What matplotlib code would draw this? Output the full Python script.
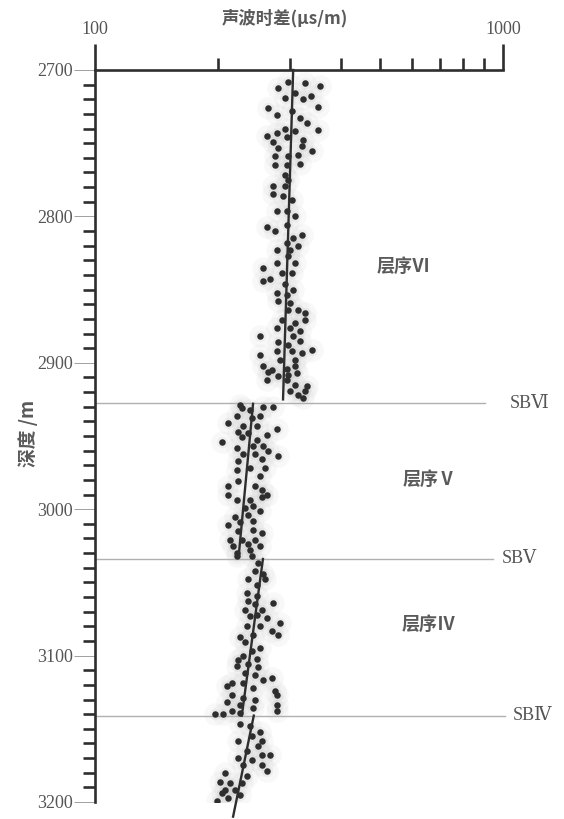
import matplotlib
matplotlib.use('Agg')
import matplotlib.pyplot as plt
from matplotlib.ticker import FixedLocator, NullFormatter, FixedFormatter, MultipleLocator

# ---------------- data ----------------
seq6_depth = [2712, 2708, 2716, 2709, 2711, 2719, 2720, 2718, 2726, 2731,
              2728, 2733, 2725, 2736, 2740, 2742, 2741, 2745, 2743, 2749,
              2746, 2748, 2753, 2752, 2755, 2759, 2759, 2758, 2765, 2765,
              2764, 2772, 2775, 2779, 2779, 2785, 2786, 2789, 2796, 2796,
              2800, 2807, 2810, 2806, 2815, 2813, 2818, 2823, 2823, 2820,
              2827, 2832, 2832, 2835, 2839, 2839, 2844, 2843, 2846, 2850,
              2852, 2854, 2858, 2859, 2864, 2864, 2866, 2871, 2873, 2871,
              2876, 2876, 2878, 2882, 2882, 2886, 2888, 2885, 2891, 2892,
              2892, 2893, 2895, 2898, 2898, 2902, 2905, 2904, 2902, 2906,
              2909, 2908, 2907, 2912, 2912, 2915, 2916, 2919, 2919, 2922, 2924]
seq6_dt = [281, 297, 309, 327, 356, 292, 324, 339, 265, 279,
           304, 318, 352, 331, 292, 309, 352, 264, 279, 273,
           296, 324, 281, 322, 341, 276, 297, 315, 276, 296,
           318, 292, 297, 273, 292, 273, 289, 304, 279, 296,
           309, 264, 276, 296, 306, 322, 296, 279, 301, 315,
           297, 309, 279, 258, 287, 304, 258, 269, 292, 306,
           279, 296, 281, 301, 297, 315, 327, 287, 309, 327,
           279, 301, 318, 254, 306, 281, 297, 318, 341, 279,
           304, 322, 254, 284, 309, 258, 272, 296, 309, 266,
           281, 297, 313, 264, 296, 309, 331, 301, 327, 315, 324]

seq5_depth = [2929, 2930, 2930, 2932, 2931, 2936, 2938, 2936, 2941, 2943,
              2943, 2945, 2947, 2948, 2949, 2951, 2953, 2954, 2958, 2957,
              2957, 2960, 2962, 2962, 2964, 2967, 2966, 2973, 2972, 2972,
              2977, 2981, 2984, 2984, 2987, 2990, 2990, 2994, 2994, 2992,
              2999, 2998, 3001, 3005, 3004, 3011, 3009, 3008, 3015, 3014,
              3016, 3021, 3021, 3021, 3025, 3024, 3025, 3030, 3028, 3032, 3032]
seq5_dt = [227, 258, 273, 240, 229, 223, 243, 254, 212, 231,
           250, 279, 224, 237, 264, 229, 250, 205, 223, 244,
           258, 266, 231, 247, 281, 224, 257, 223, 240, 261,
           254, 224, 212, 247, 257, 212, 264, 223, 240, 257,
           233, 244, 254, 220, 237, 212, 227, 244, 224, 244,
           257, 214, 229, 247, 218, 237, 254, 223, 240, 223, 243]

seq4_depth = [3037, 3042, 3044, 3048, 3048, 3052, 3057, 3059, 3064, 3063,
              3065, 3069, 3069, 3074, 3073, 3072, 3080, 3080, 3078, 3083,
              3086, 3087, 3086, 3091, 3095, 3097, 3100, 3102, 3103, 3106,
              3107, 3108, 3112, 3113, 3115, 3119, 3119, 3117, 3121, 3122,
              3124, 3127, 3129, 3130, 3127, 3132, 3134, 3136, 3134, 3138,
              3140, 3140, 3138, 3139]
seq4_dt = [251, 247, 258, 237, 261, 250, 236, 250, 273, 237,
           247, 233, 257, 264, 240, 250, 236, 254, 284, 272,
           281, 227, 244, 233, 254, 243, 231, 250, 224, 237,
           223, 251, 233, 247, 272, 217, 231, 258, 211, 244,
           276, 217, 231, 247, 279, 211, 227, 244, 279, 279,
           197, 206, 217, 227]

seq3_depth = [3147, 3148, 3152, 3155, 3158, 3158, 3162, 3165, 3168, 3168,
              3170, 3171, 3175, 3175, 3180, 3179, 3182, 3186, 3187, 3187,
              3192, 3192, 3194, 3199, 3197, 3195]
seq3_dt = [227, 240, 254, 243, 257, 224, 251, 236, 257, 268,
           224, 243, 257, 231, 208, 264, 236, 202, 214, 229,
           208, 220, 205, 199, 212, 227]

trend6_depth = [2700, 2925]
trend6_dt = [306, 289]
trend5_depth = [2928, 3032]
trend5_dt = [244, 225]
trend4_depth = [3034, 3141]
trend4_dt = [258, 229]
trend3_depth = [3141, 3210]
trend3_dt = [245, 218]

sb_depths = [2927.5, 3034, 3141]
sb_labels = ['SBⅥ', 'SBⅤ', 'SBⅣ']
seq_labels = ['层序Ⅵ', '层序Ⅴ', '层序Ⅳ']

x_major = [100, 1000]
x_major_labels = ['100', '1000']
x_minor = [200, 300, 400, 500, 600, 700, 800, 900]
y_major = [2700, 2800, 2900, 3000, 3100, 3200]

# ---------------- figure ----------------
fig = plt.figure(figsize=(5.64, 8.19), dpi=100)
ax = fig.add_axes([95 / 564, 1 - 802 / 819, 408 / 564, 732 / 819])
ax.set_xscale('log')
ax.set_xlim(100, 1000)
ax.set_ylim(3200, 2700)

dark = '#2e2e2e'
txt = '#555555'
cjk = ['Noto Sans CJK SC', 'DejaVu Sans']
serif = ['Liberation Serif', 'DejaVu Serif', 'Noto Sans CJK SC']

for s in ['right', 'bottom']:
    ax.spines[s].set_visible(False)
for s in ['top', 'left']:
    ax.spines[s].set_linewidth(1.9)
    ax.spines[s].set_color(dark)

ax.xaxis.set_ticks_position('top')
ax.xaxis.set_major_locator(FixedLocator(x_major))
ax.xaxis.set_major_formatter(FixedFormatter(x_major_labels))
ax.xaxis.set_minor_locator(FixedLocator(x_minor))
ax.xaxis.set_minor_formatter(NullFormatter())
ax.tick_params(axis='x', which='major', direction='out', length=19, width=1.9,
               color=dark, pad=4, labelsize=13, labelcolor=txt,
               top=True, bottom=False, labeltop=True, labelbottom=False)
ax.tick_params(axis='x', which='minor', direction='out', length=8.6, width=1.9,
               color=dark, top=True, bottom=False)

ax.yaxis.set_major_locator(FixedLocator(y_major))
ax.yaxis.set_minor_locator(MultipleLocator(10))
ax.tick_params(axis='y', which='major', direction='out', length=15, width=0.7,
               color='#a0a0a0', pad=1, labelsize=13, labelcolor=txt)
ax.tick_params(axis='y', which='minor', direction='out', length=8.6, width=1.9,
               color=dark)
for lab in ax.get_xticklabels() + ax.get_yticklabels():
    lab.set_fontfamily(serif)

all_depth = seq6_depth + seq5_depth + seq4_depth + seq3_depth
all_dt = seq6_dt + seq5_dt + seq4_dt + seq3_dt

# soft grey halo (scan shadow)
ax.scatter(all_dt, all_depth, s=260, c='#c0c0c0', alpha=0.10, linewidths=0, zorder=1)
ax.scatter(all_dt, all_depth, s=70, c='#b0b0b0', alpha=0.12, linewidths=0, zorder=1)
for d, v in [(seq6_depth, seq6_dt), (seq5_depth, seq5_dt),
             (seq4_depth, seq4_dt), (seq3_depth, seq3_dt)]:
    ax.scatter(v, d, s=22, c=dark, linewidths=0, zorder=3)

for d, v in [(trend6_depth, trend6_dt), (trend5_depth, trend5_dt),
             (trend4_depth, trend4_dt), (trend3_depth, trend3_dt)]:
    ax.plot(v, d, color=dark, lw=1.7, zorder=4, clip_on=False)

# sequence boundaries
sb_ends = [0.956, 0.975, 1.005]
sb_label_x = [1.017, 0.998, 1.025]
for dep, xe, lx, lab in zip(sb_depths, sb_ends, sb_label_x, sb_labels):
    ax.plot([0, xe], [dep, dep], color='#b0b0b0', lw=1.0, zorder=2,
            transform=ax.get_yaxis_transform(), clip_on=False)
    ax.text(lx, dep, lab, transform=ax.get_yaxis_transform(), ha='left',
            va='center', fontsize=13, color=txt, family=serif)

seq_pos = [(0.757, 0.731), (0.819, 0.440), (0.819, 0.242)]
for (px, py), lab in zip(seq_pos, seq_labels):
    ax.text(px, py, lab, transform=ax.transAxes, ha='center', va='center',
            fontsize=13, color='#5a5a5a', family=cjk, fontweight='bold')

ax.text(0.466, 1.071, '声波时差(μs/m)', transform=ax.transAxes, ha='center',
        va='center', fontsize=12.5, color='#5a5a5a', family=cjk, fontweight='bold')
ax.text(-0.164, 0.504, '深度 /m', transform=ax.transAxes, ha='center',
        va='center', rotation=90, fontsize=13.5, color='#5a5a5a', family=cjk,
        fontweight='bold')

fig.savefig('out.png', dpi=100)
